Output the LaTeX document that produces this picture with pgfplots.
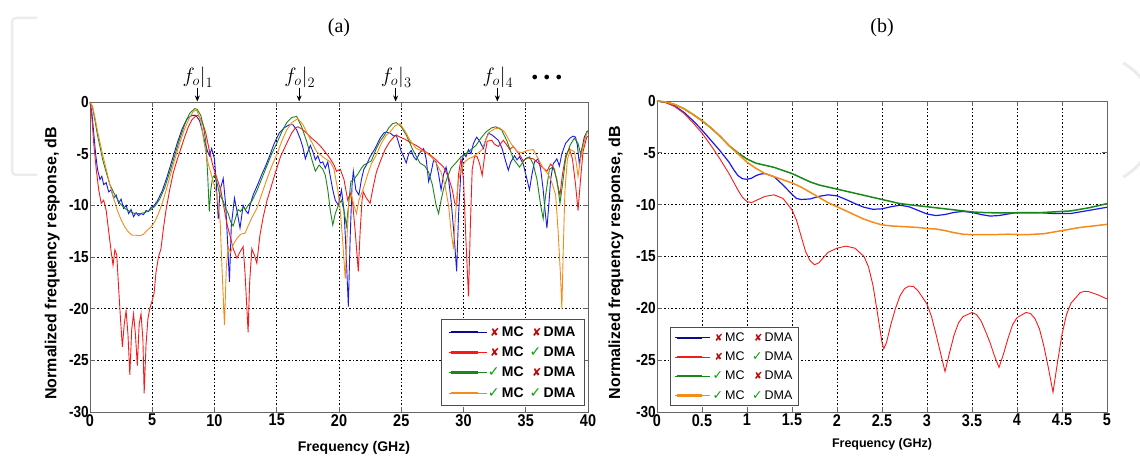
\documentclass[border=0pt]{standalone}
\usepackage{fontspec}
\setmainfont{Liberation Sans}
\newfontfamily\serif{Liberation Serif}
\newfontfamily\tickfont{Liberation Sans}[FakeStretch=0.85]
\newfontfamily\symfont{DejaVu Sans}
\usepackage{pgfplots}
\pgfplotsset{compat=1.18}
\usetikzlibrary{arrows.meta}
\definecolor{cblue}{RGB}{25,25,235}
\definecolor{lblue}{RGB}{10,10,140}
\definecolor{cred}{RGB}{250,25,25}
\definecolor{cgreen}{RGB}{25,135,25}
\definecolor{corange}{RGB}{245,140,25}
\definecolor{xred}{RGB}{185,10,10}
\definecolor{ckgreen}{RGB}{0,165,0}
\definecolor{wm}{RGB}{236,236,236}
\newcommand{\xm}{{\symfont\color{xred}\scalebox{0.8}{\symbol{"2718}}}}
\newcommand{\ck}{{\symfont\color{ckgreen}\symbol{"2713}}}
\newcommand{\lent}[2]{\makebox[13pt][r]{#1\,}MC\hspace{7pt}\makebox[13pt][r]{#2\,}DMA}
\newcommand{\fo}[2]{%
  \draw[-{Stealth[length=6pt,width=5pt]}, line width=0.9pt] (axis cs:#1,1.4) -- (axis cs:#1,0.05);
  \node[font=\fontsize{22}{24}\selectfont] at (axis cs:#1,2.4) {$\left. f_{o}\right|_{#2}$};}
\pgfplotsset{
  mat/.style={
    scale only axis,
    axis line style={draw=black!60, line width=0.8pt},
    tick style={draw=black!60, line width=0.8pt},
    major tick length=5pt,
    tick align=inside,
    grid=major,
    major grid style={black, dash pattern=on 1.6pt off 2pt, line width=0.6pt},
    ymin=-30, ymax=0,
    ytick={-30,-25,...,0},
    yticklabels={-30,-25,-20,-15,-10,-5,0},
    yticklabel style={font=\tickfont\bfseries\fontsize{16}{16}\selectfont, inner sep=1pt},
    xticklabel style={font=\tickfont\bfseries\fontsize{17}{17}\selectfont, inner sep=2pt},
    ylabel={Normalized frequency response, dB},
    ylabel style={font=\bfseries\fontsize{16}{16}\selectfont, anchor=center},
    legend cell align={left},
    clip=false,
  }
}
\begin{document}
\begin{tikzpicture}
\path[use as bounding box] (0pt,0pt) rectangle (1140pt,458pt);
% faint watermark shapes
\draw[wm, line width=2.5pt, rounded corners=4pt] (37pt,440pt) -- (12pt,440pt) -- (12pt,283pt) -- (37pt,283pt);
\draw[wm, line width=3pt] (1090pt,338pt) ++(-60:66pt) arc[start angle=-60, end angle=60, radius=66pt];
\node[font=\serif\fontsize{20}{24}\selectfont] at (339pt,430pt) {(a)};
\node[font=\serif\fontsize{20}{24}\selectfont] at (882pt,430pt) {(b)};

\begin{axis}[mat,
  at={(90pt,46pt)}, anchor=south west, width=498pt, height=310pt,
  xmin=0, xmax=40,
  xtick={0,5,...,40},
  xticklabels={0,5,10,15,20,25,30,35,40},
  xlabel={Frequency (GHz)},
  xlabel style={font=\bfseries\fontsize{14}{14}\selectfont, at={(axis description cs:0.53,-0.116)}, anchor=center},
  ylabel style={at={(axis description cs:-0.076,0.48)}},
  legend style={at={(axis description cs:1,0)}, anchor=south east, xshift=-3pt, yshift=6pt,
    draw=black!70, line width=0.8pt, fill=white, font=\bfseries\fontsize{14}{15}\selectfont,
    inner xsep=7pt, inner ysep=5pt, row sep=5pt},
  legend image code/.code={\draw[#1, line width=2.4pt] (0pt,0pt) -- (27pt,0pt); \path (-2pt,0pt) -- (36pt,0pt);},
]
\addplot[cblue, line width=0.9pt, forget plot] table {
x y
0 0
0.15 -1.0
0.3 -3.0
0.45 -5.0
0.6 -6.5
0.8 -7.5
0.95 -7.2
1.1 -8.0
1.3 -7.8
1.5 -8.7
1.7 -8.5
1.9 -9.3
2.1 -9.0
2.3 -9.8
2.5 -9.4
2.7 -10.3
2.9 -10.0
3.1 -10.8
3.3 -10.4
3.5 -11.1
3.7 -10.7
3.9 -11.0
4.1 -10.8
4.3 -10.9
4.5 -10.5
4.7 -10.6
4.9 -10.2
5.1 -10.1
5.4 -9.6
5.8 -8.6
6.2 -7.2
6.6 -5.6
7.0 -4.0
7.4 -2.6
7.8 -1.6
8.2 -1.3
8.5 -1.3
8.8 -1.8
9.0 -2.7
9.2 -3.8
9.45 -4.8
9.6 -5.2
9.77 -4.5
10.0 -5.5
10.15 -8.0
10.3 -11.3
10.45 -8.5
10.7 -7.4
10.9 -10.0
11.05 -13.5
11.2 -17.4
11.35 -12.0
11.6 -9.3
11.8 -10.5
12.05 -12.2
12.3 -10.0
12.5 -10.5
12.7 -10.8
12.9 -9.8
13.1 -9.0
13.5 -7.9
13.8 -7.0
14.1 -6.2
14.4 -5.3
14.8 -4.0
15.2 -3.0
15.6 -2.5
16.0 -2.2
16.3 -2.2
16.6 -2.7
16.9 -3.6
17.1 -4.4
17.3 -5.5
17.5 -4.8
17.7 -4.2
17.9 -4.8
18.1 -5.6
18.3 -5.2
18.5 -5.9
18.7 -5.8
18.9 -6.4
19.1 -5.8
19.3 -7.2
19.5 -8.5
19.7 -9.5
19.95 -10.0
20.2 -8.5
20.4 -10.5
20.55 -14.0
20.75 -19.8
20.9 -13.0
21.05 -8.0
21.15 -6.7
21.35 -8.5
21.6 -9.0
21.8 -7.5
22.0 -6.5
22.2 -6.1
22.5 -5.3
22.9 -4.5
23.3 -3.5
23.6 -3.0
23.8 -2.9
24.1 -3.0
24.4 -3.3
24.6 -3.2
24.8 -4.0
25.0 -4.8
25.2 -5.3
25.4 -5.9
25.6 -5.0
25.8 -4.7
26.0 -5.3
26.2 -5.6
26.5 -4.9
26.8 -4.5
27.0 -5.5
27.2 -7.7
27.4 -6.8
27.6 -5.6
27.8 -5.8
28.0 -7.0
28.2 -8.5
28.4 -7.0
28.6 -6.3
28.8 -7.5
29.0 -9.5
29.25 -13.0
29.45 -16.4
29.6 -11.0
29.8 -6.5
30.0 -5.0
30.2 -5.3
30.4 -4.6
30.6 -5.0
30.8 -4.0
31.06 -3.4
31.3 -3.8
31.6 -4.5
31.8 -3.6
32.0 -3.0
32.3 -3.2
32.6 -3.5
32.8 -3.7
33.1 -4.5
33.4 -5.8
33.6 -6.6
33.8 -5.8
34.1 -5.2
34.3 -5.6
34.5 -5.3
34.8 -6.0
35.0 -7.0
35.3 -8.5
35.5 -7.0
35.7 -5.8
36.0 -5.5
36.2 -6.5
36.4 -8.5
36.55 -10.5
36.7 -12.2
36.85 -10.0
37.0 -7.5
37.2 -6.0
37.5 -5.5
37.7 -6.2
37.9 -5.0
38.2 -4.0
38.55 -3.5
38.8 -3.3
39.0 -3.4
39.15 -4.2
39.3 -6.0
39.5 -4.6
39.7 -3.4
39.9 -2.9
40.0 -2.8
};
\addplot[cred, line width=0.9pt, forget plot] table {
x y
0 0
0.15 -1.5
0.3 -4.0
0.5 -6.5
0.7 -8.5
0.9 -9.8
1.1 -9.5
1.3 -10.5
1.5 -12.5
1.7 -14.5
1.85 -15.8
2.0 -14.3
2.15 -14.8
2.3 -18.0
2.45 -21.0
2.6 -23.7
2.75 -21.5
2.9 -20.2
3.05 -22.5
3.2 -26.4
3.35 -22.0
3.5 -20.5
3.65 -22.5
3.8 -25.5
3.95 -21.5
4.1 -20.5
4.25 -23.0
4.35 -28.2
4.5 -23.5
4.65 -21.0
4.8 -20.0
5.0 -19.2
5.15 -18.5
5.3 -16.5
5.5 -15.0
5.7 -14.2
5.9 -12.2
6.1 -10.5
6.4 -8.5
6.7 -6.8
7.0 -5.6
7.3 -4.5
7.6 -3.4
7.9 -2.4
8.2 -1.7
8.5 -1.35
8.7 -1.3
9.0 -1.9
9.3 -3.0
9.6 -4.8
9.9 -6.3
10.2 -7.4
10.5 -8.5
10.8 -10.5
11.0 -11.8
11.24 -12.9
11.5 -14.2
11.8 -15.1
12.05 -14.5
12.3 -14.0
12.45 -16.5
12.58 -19.5
12.7 -22.3
12.82 -17.5
13.0 -14.2
13.2 -14.8
13.4 -15.6
13.65 -12.9
13.9 -11.2
14.2 -9.6
14.5 -8.4
14.9 -6.8
15.3 -5.3
15.8 -4.0
16.2 -3.0
16.5 -2.5
16.7 -2.4
17.0 -2.6
17.4 -3.0
17.8 -3.5
18.2 -3.9
18.6 -4.4
19.0 -5.0
19.3 -5.5
19.6 -6.1
19.8 -6.7
20.1 -6.5
20.4 -7.5
20.7 -9.5
20.9 -8.8
21.1 -9.8
21.3 -12.5
21.45 -14.8
21.55 -16.4
21.7 -12.5
21.85 -9.5
21.95 -8.7
22.2 -9.3
22.5 -9.8
22.7 -8.5
23.0 -6.8
23.3 -5.8
23.7 -4.6
24.1 -3.8
24.4 -3.4
24.6 -3.2
24.9 -3.4
25.3 -3.6
25.7 -3.9
26.2 -4.2
26.7 -4.6
27.3 -5.1
27.8 -5.6
28.4 -6.3
28.8 -7.3
29.1 -8.5
29.3 -9.8
29.45 -10.0
29.6 -7.0
29.8 -5.5
30.0 -7.5
30.2 -13.5
30.4 -18.8
30.55 -12.0
30.7 -6.5
30.9 -5.2
31.1 -5.3
31.3 -6.0
31.5 -7.1
31.7 -5.2
31.9 -3.8
32.26 -3.7
32.5 -4.1
32.8 -4.3
33.2 -3.7
33.5 -4.2
33.7 -4.6
34.0 -4.3
34.5 -5.1
34.8 -5.7
35.1 -5.4
35.6 -5.5
36.0 -5.9
36.4 -6.4
36.7 -6.7
37.0 -6.0
37.3 -6.5
37.55 -8.0
37.75 -9.0
37.95 -7.0
38.2 -5.2
38.5 -4.5
38.75 -5.5
39.0 -8.0
39.2 -10.5
39.4 -7.5
39.6 -4.8
39.9 -3.4
40.0 -3.3
};
\addplot[cgreen, line width=0.9pt, forget plot] table {
x y
0 0
0.2 -0.5
0.4 -1.8
0.6 -3.2
0.8 -4.3
1.0 -5.5
1.3 -6.8
1.6 -8.0
2.0 -9.0
2.4 -9.8
2.8 -10.3
3.2 -10.6
3.6 -10.8
4.0 -10.8
4.4 -10.7
4.8 -10.5
5.2 -10.1
5.6 -9.4
6.0 -8.3
6.4 -6.8
6.8 -5.2
7.2 -3.6
7.6 -2.2
8.0 -1.1
8.4 -0.65
8.6 -0.7
8.9 -1.3
9.1 -2.3
9.3 -3.8
9.45 -7.0
9.58 -10.6
9.7 -8.5
9.85 -7.3
10.0 -7.1
10.2 -7.8
10.4 -8.9
10.7 -9.6
10.9 -10.3
11.1 -10.8
11.3 -11.6
11.5 -12.0
11.7 -11.2
11.9 -10.4
12.1 -10.6
12.3 -10.2
12.5 -10.4
12.7 -10.0
13.0 -9.6
13.4 -8.6
13.8 -7.4
14.2 -6.2
14.6 -5.0
15.0 -4.0
15.4 -2.9
15.8 -2.0
16.2 -1.5
16.6 -1.4
17.0 -2.4
17.4 -3.8
17.8 -5.5
18.1 -6.7
18.4 -6.1
18.7 -6.5
18.9 -7.1
19.1 -8.5
19.3 -10.5
19.5 -11.9
19.7 -10.8
19.95 -10.0
20.2 -9.5
20.4 -10.5
20.6 -12.0
20.8 -9.5
20.95 -7.7
21.2 -7.5
21.5 -7.0
21.8 -6.4
22.0 -6.1
22.3 -5.9
22.6 -5.7
23.0 -4.5
23.3 -3.8
23.6 -3.3
24.0 -2.5
24.3 -2.1
24.6 -2.0
25.0 -2.4
25.4 -3.2
25.7 -4.0
26.0 -4.8
26.5 -5.9
26.9 -6.2
27.2 -6.8
27.5 -8.0
27.8 -10.0
28.0 -10.8
28.2 -9.5
28.4 -8.4
28.7 -7.3
29.0 -6.4
29.45 -5.8
29.8 -5.3
30.2 -5.0
30.6 -4.6
31.0 -4.2
31.4 -3.5
31.8 -2.9
32.26 -2.5
32.6 -2.4
33.06 -2.7
33.5 -3.8
34.0 -5.5
34.5 -6.3
34.9 -5.6
35.3 -5.3
35.6 -6.0
35.9 -7.5
36.2 -10.0
36.4 -11.3
36.6 -9.0
36.9 -6.5
37.2 -6.3
37.5 -7.5
37.75 -9.8
37.95 -8.0
38.2 -5.5
38.55 -4.2
38.9 -3.5
39.2 -4.0
39.4 -5.0
39.6 -4.2
39.9 -2.9
40.0 -2.8
};
\addplot[corange, line width=0.9pt, forget plot] table {
x y
0 0
0.2 -0.4
0.4 -1.5
0.6 -2.8
0.8 -3.9
1.0 -5.0
1.3 -6.5
1.6 -8.0
1.9 -9.3
2.2 -10.5
2.5 -11.4
2.8 -12.1
3.1 -12.6
3.4 -12.9
3.7 -12.9
4.0 -12.95
4.3 -12.8
4.6 -12.4
4.9 -12.1
5.2 -11.6
5.5 -10.8
5.8 -9.8
6.1 -8.6
6.4 -7.3
6.8 -5.6
7.2 -4.0
7.6 -2.6
8.0 -1.5
8.3 -0.9
8.56 -0.77
8.9 -1.8
9.2 -4.2
9.5 -6.0
9.9 -7.7
10.2 -9.0
10.45 -11.5
10.6 -16.0
10.8 -21.6
10.95 -16.0
11.1 -14.0
11.3 -14.6
11.5 -13.8
11.8 -13.2
12.1 -12.8
12.45 -12.7
12.7 -12.0
13.0 -11.2
13.4 -10.3
13.8 -8.9
14.2 -7.5
14.6 -6.2
15.0 -5.1
15.4 -3.8
15.8 -2.7
16.2 -2.0
16.7 -1.6
17.1 -2.2
17.6 -3.4
18.2 -4.8
18.8 -5.4
19.3 -5.8
19.6 -6.5
19.9 -8.5
20.1 -10.5
20.3 -13.5
20.5 -17.1
20.65 -13.0
20.8 -9.5
21.0 -9.0
21.2 -10.0
21.4 -10.8
21.6 -9.5
21.95 -8.4
22.3 -7.0
22.6 -6.0
23.0 -5.1
23.4 -4.0
23.8 -3.2
24.1 -2.9
24.5 -2.3
24.9 -2.1
25.3 -2.8
25.7 -3.7
26.2 -4.5
26.6 -4.7
27.0 -4.9
27.4 -5.3
27.8 -5.9
28.2 -6.8
28.5 -8.0
28.8 -10.0
29.0 -12.5
29.2 -14.2
29.35 -11.0
29.55 -8.0
29.8 -6.5
30.1 -5.8
30.4 -5.5
30.8 -5.3
31.2 -4.9
31.5 -4.6
31.8 -3.6
32.1 -2.9
32.5 -2.6
32.9 -2.5
33.3 -2.9
33.8 -4.0
34.3 -4.8
34.7 -4.9
35.1 -4.7
35.6 -4.6
36.0 -5.5
36.4 -6.4
36.8 -7.0
37.1 -7.8
37.4 -9.0
37.6 -12.5
37.8 -17.0
37.9 -20.0
38.02 -14.0
38.15 -8.5
38.35 -5.5
38.6 -4.6
38.9 -4.8
39.05 -5.8
39.2 -7.2
39.4 -5.5
39.7 -3.8
39.9 -3.0
40.0 -3.0
};
\addlegendimage{lblue, mark=none}
\addlegendentry{\lent{\xm}{\xm}}
\addlegendimage{cred, mark=none}
\addlegendentry{\lent{\xm}{\ck}}
\addlegendimage{cgreen, mark=none}
\addlegendentry{\lent{\ck}{\xm}}
\addlegendimage{corange, mark=none}
\addlegendentry{\lent{\ck}{\ck}}
\fo{8.62}{1}
\fo{16.8}{2}
\fo{24.55}{3}
\fo{32.72}{4}
\node[font=\fontsize{13}{14}\selectfont] at (axis cs:36.7,2.3) {$\bullet\;\bullet\;\bullet$};
\end{axis}

\begin{axis}[mat,
  at={(657pt,46pt)}, anchor=south west, width=450pt, height=311pt,
  xmin=0, xmax=5,
  xtick={0,0.5,...,5},
  xticklabels={0,0.5,1,1.5,2,2.5,3,3.5,4,4.5,5},
  xlabel={Frequency (GHz)},
  xlabel style={font=\bfseries\fontsize{12.5}{12.5}\selectfont, at={(axis description cs:0.5,-0.103)}, anchor=center},
  ylabel style={at={(axis description cs:-0.091,0.48)}},
  legend style={at={(axis description cs:0,0)}, anchor=south west, xshift=13pt, yshift=6pt,
    draw=black!70, line width=0.8pt, fill=white, font=\fontsize{12.5}{13.5}\selectfont,
    inner xsep=4pt, inner ysep=3pt, row sep=5pt},
  legend image code/.code={\draw[#1, line width=2.2pt] (0pt,0pt) -- (25pt,0pt); \path (-2pt,0pt) -- (33pt,0pt);},
]
\addplot[cblue, line width=1.2pt, forget plot] table {
x y
0 0
0.1 -0.15
0.2 -0.5
0.3 -1.1
0.4 -1.9
0.5 -2.8
0.6 -3.8
0.7 -4.8
0.8 -5.9
0.85 -6.6
0.9 -7.2
0.95 -7.5
1.0 -7.55
1.05 -7.45
1.1 -7.2
1.15 -7.05
1.2 -7.0
1.3 -7.3
1.4 -8.1
1.5 -9.0
1.55 -9.4
1.6 -9.5
1.7 -9.45
1.8 -9.2
1.9 -9.05
2.0 -9.15
2.1 -9.5
2.2 -9.9
2.3 -10.25
2.4 -10.45
2.5 -10.4
2.6 -10.2
2.7 -10.05
2.8 -10.2
2.9 -10.55
3.0 -10.9
3.1 -11.05
3.2 -10.95
3.3 -10.75
3.4 -10.65
3.5 -10.75
3.6 -10.95
3.7 -11.1
3.8 -11.05
3.9 -10.9
4.0 -10.75
4.2 -10.75
4.4 -10.85
4.6 -10.85
4.8 -10.55
5.0 -10.25
};
\addplot[cred, line width=0.9pt, forget plot] table {
x y
0 0
0.1 -0.15
0.2 -0.55
0.3 -1.2
0.4 -2.1
0.5 -3.1
0.6 -4.3
0.7 -5.6
0.8 -7.0
0.9 -8.6
0.95 -9.3
1.0 -9.7
1.05 -9.8
1.1 -9.6
1.2 -9.2
1.3 -9.05
1.4 -9.4
1.5 -10.5
1.55 -11.5
1.6 -13.0
1.65 -14.5
1.7 -15.4
1.75 -15.8
1.8 -15.6
1.85 -15.1
1.9 -14.6
2.0 -14.2
2.1 -14.0
2.2 -14.2
2.3 -15.0
2.35 -16.0
2.4 -17.8
2.45 -20.5
2.5 -23.3
2.52 -23.9
2.55 -23.3
2.6 -21.5
2.65 -20.0
2.7 -18.8
2.75 -18.1
2.8 -17.85
2.85 -17.9
2.9 -18.3
3.0 -19.6
3.05 -20.8
3.1 -22.5
3.15 -24.3
3.2 -26.1
3.25 -24.3
3.3 -22.6
3.35 -21.4
3.4 -20.8
3.5 -20.4
3.55 -20.6
3.6 -21.2
3.65 -22.2
3.7 -23.3
3.75 -24.6
3.8 -25.7
3.85 -24.4
3.9 -22.9
3.95 -21.6
4.0 -20.9
4.1 -20.4
4.15 -20.5
4.2 -21.0
4.25 -22.0
4.3 -23.7
4.35 -25.8
4.4 -28.1
4.45 -25.2
4.5 -22.5
4.55 -20.6
4.6 -19.5
4.7 -18.5
4.75 -18.35
4.8 -18.4
4.9 -18.7
5.0 -19.1
};
\addplot[cgreen, line width=1.5pt, forget plot] table {
x y
0 0
0.1 -0.1
0.2 -0.35
0.3 -0.75
0.4 -1.3
0.5 -1.9
0.6 -2.6
0.7 -3.4
0.8 -4.3
0.9 -5.0
1.0 -5.6
1.1 -6.0
1.2 -6.2
1.3 -6.4
1.4 -6.7
1.5 -7.0
1.6 -7.4
1.7 -7.8
1.8 -8.1
1.9 -8.3
2.0 -8.5
2.1 -8.7
2.2 -8.9
2.3 -9.1
2.4 -9.3
2.5 -9.5
2.6 -9.7
2.7 -9.9
2.8 -10.0
2.9 -10.1
3.0 -10.2
3.1 -10.3
3.2 -10.4
3.3 -10.5
3.4 -10.6
3.5 -10.7
3.6 -10.75
3.8 -10.8
4.0 -10.8
4.2 -10.8
4.4 -10.7
4.6 -10.6
4.8 -10.3
5.0 -9.9
};
\addplot[corange, line width=1.5pt, forget plot] table {
x y
0 0
0.1 -0.1
0.2 -0.35
0.3 -0.75
0.4 -1.3
0.5 -1.9
0.6 -2.6
0.7 -3.4
0.8 -4.3
0.9 -5.1
1.0 -5.9
1.1 -6.5
1.2 -7.0
1.3 -7.3
1.4 -7.6
1.5 -7.9
1.6 -8.3
1.7 -8.8
1.8 -9.3
1.9 -9.8
2.0 -10.2
2.1 -10.6
2.2 -11.0
2.3 -11.4
2.4 -11.7
2.5 -11.95
2.6 -12.05
2.7 -12.1
2.8 -12.15
2.9 -12.2
3.0 -12.3
3.1 -12.35
3.2 -12.5
3.3 -12.7
3.4 -12.85
3.5 -12.9
3.7 -12.9
3.9 -12.85
4.1 -12.9
4.3 -12.8
4.5 -12.5
4.7 -12.2
4.9 -12.0
5.0 -11.9
};
\addlegendimage{lblue, mark=none}
\addlegendentry{\lent{\xm}{\xm}}
\addlegendimage{cred, mark=none}
\addlegendentry{\lent{\xm}{\ck}}
\addlegendimage{cgreen, mark=none}
\addlegendentry{\lent{\ck}{\xm}}
\addlegendimage{corange, mark=none}
\addlegendentry{\lent{\ck}{\ck}}
\end{axis}
\end{tikzpicture}
\end{document}
